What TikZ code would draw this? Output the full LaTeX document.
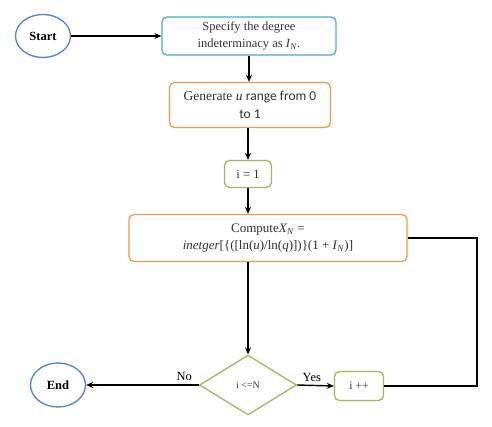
\documentclass[tikz,border=0pt]{standalone}
\usepackage{fontspec}
\setmainfont{Liberation Serif}
\newfontfamily\calfont{Carlito}
\usetikzlibrary{shapes.geometric,arrows.meta}
\definecolor{cblue}{HTML}{4F81CF}
\definecolor{ccyan}{HTML}{4BACC6}
\definecolor{corange}{HTML}{F79646}
\definecolor{cgreen}{HTML}{9BBB59}
\definecolor{ctext}{HTML}{303030}
\newcommand{\symsub}[2]{\textit{#1}\textsubscript{\textit{#2}}}
\begin{document}
\begin{tikzpicture}[x=1pt,y=1pt,
  term/.style={ellipse,draw=cblue,line width=1.3pt,inner sep=0pt,minimum width=55pt,minimum height=43pt,font=\fontsize{12.5}{14}\selectfont\bfseries},
  proc/.style={rectangle,rounded corners=5pt,line width=1.3pt,inner sep=2pt,align=center,text=ctext,font=\fontsize{12.5}{17}\selectfont},
  link/.style={line width=1.4pt,-{Stealth[length=7pt,width=6pt]}},
  lbl/.style={font=\fontsize{12.5}{14}\selectfont}]
\useasboundingbox (0,0) rectangle (492,-427);
\node[term] (start) at (43,-36) {Start};
\node[proc,draw=ccyan,minimum width=174pt,minimum height=38pt] (spec) at (249,-36) {Specify the degree\\indeterminacy as \symsub{I}{N}.};
\node[proc,draw=corange,minimum width=161pt,minimum height=45pt,font=\fontsize{13.5}{18}\selectfont] (gen) at (250,-105) {Generate \textit{u} {\calfont range from 0}\\{\calfont to 1}};
\node[proc,draw=cgreen,minimum width=47pt,minimum height=27pt] (i1) at (248,-174) {i = 1};
\node[proc,draw=corange,minimum width=278pt,minimum height=47pt,font=\fontsize{13}{17}\selectfont] (comp) at (268,-238) {Compute\symsub{X}{N} =\\\textit{inetger}[\{([ln(\textit{u})/ln(\textit{q})])\}(1 + \symsub{I}{N})]};
\node[diamond,draw=cgreen,line width=1.3pt,inner sep=0pt,minimum width=97pt,minimum height=60pt,text=ctext,font=\fontsize{10}{12}\selectfont] (dia) at (248,-385) {i <=N};
\node[term,minimum height=44pt] (end) at (58,-385) {End};
\node[proc,draw=cgreen,minimum width=49pt,minimum height=29pt,font=\fontsize{11.5}{14}\selectfont] (inc) at (359,-386) {i ++};
\coordinate (rt) at (477,-386);
\draw[link] (start.east) -- (spec.west);
\draw[link] (spec.south) -- (spec.south |- gen.north);
\draw[link] (gen.south -| i1.north) -- (i1.north);
\draw[link] (i1.south) -- (i1.south |- comp.north);
\draw[link] (dia.north |- comp.south) -- (dia.north);
\draw[link] (dia.west) -- node[lbl,above,pos=0.13] {No} (end.east);
\draw[link] (dia.east) -- node[lbl,above,pos=0.4] {Yes} (inc.west);
\draw[line width=1.4pt] (inc.east) -- (rt) |- (comp.east);
\end{tikzpicture}
\end{document}
